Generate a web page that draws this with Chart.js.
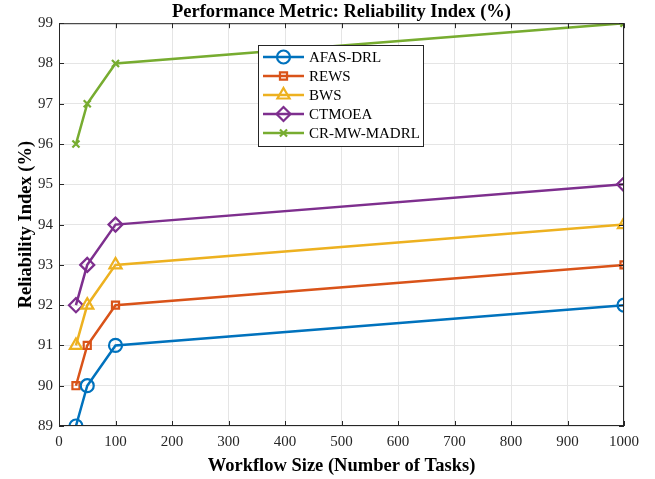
<!DOCTYPE html>
<html>
<head>
<meta charset="utf-8">
<script src="https://cdn.jsdelivr.net/npm/chart.js@4"></script>
<style>
  html, body { margin: 0; padding: 0; background: #fff; }
  #wrap { width: 655px; height: 479px; }
</style>
</head>
<body>
<div id="wrap"><canvas id="relChart" width="655" height="479"></canvas></div>
<script>
    'use strict';

    // workflow sizes (x) and reliability values per method
    const taskCounts = [30, 50, 100, 1000];
    const afasDrl = [89, 90, 91, 92];
    const rews = [90, 91, 92, 93];
    const bws = [91, 92, 93, 94];
    const ctmoea = [92, 93, 94, 95];
    const crMwMadrl = [96, 97, 98, 99];

    const seriesNames = ['AFAS-DRL', 'REWS', 'BWS', 'CTMOEA', 'CR-MW-MADRL'];
    const seriesColors = ['#0072BD', '#D95319', '#EDB120', '#7E2F8E', '#77AC30'];
    const seriesMarkers = ['circle', 'rect', 'triangle', 'rectRot', 'crossRot'];
    const markerSizes = [6.5, 5, 7, 7, 5];
    const seriesValues = [afasDrl, rews, bws, ctmoea, crMwMadrl];

    const xTicks = [0, 100, 200, 300, 400, 500, 600, 700, 800, 900, 1000];
    const yTicks = [89, 90, 91, 92, 93, 94, 95, 96, 97, 98, 99];

    const axisColor = '#262626';
    const serif = '"Liberation Serif", "Times New Roman", serif';

    const datasets = seriesValues.map((vals, i) => ({
        label: seriesNames[i],
        data: vals.map((v, j) => ({ x: taskCounts[j], y: v })),
        borderColor: seriesColors[i],
        backgroundColor: 'rgba(0,0,0,0)',
        borderWidth: 2.5,
        pointStyle: seriesMarkers[i],
        pointRadius: markerSizes[i],
        pointBorderWidth: 2.2,
        pointBorderColor: seriesColors[i],
        pointBackgroundColor: 'rgba(0,0,0,0)',
        tension: 0
    }));

    // box, inward ticks and the in-plot legend, drawn like MATLAB
    const matlabFrame = {
        id: 'matlabFrame',
        afterDraw(chart) {
            const ctx = chart.ctx;
            const a = chart.chartArea;
            const xs = chart.scales.x;
            const ys = chart.scales.y;
            ctx.save();
            ctx.strokeStyle = axisColor;
            ctx.lineWidth = 1;
            ctx.strokeRect(a.left + 0.5, a.top + 0.5, a.right - a.left - 1, a.bottom - a.top - 1);
            ctx.beginPath();
            xTicks.forEach((t) => {
                const px = Math.round(xs.getPixelForValue(t)) + 0.5;
                ctx.moveTo(px, a.bottom); ctx.lineTo(px, a.bottom - 5);
                ctx.moveTo(px, a.top); ctx.lineTo(px, a.top + 5);
            });
            yTicks.forEach((t) => {
                const py = Math.round(ys.getPixelForValue(t)) + 0.5;
                ctx.moveTo(a.left, py); ctx.lineTo(a.left + 5, py);
                ctx.moveTo(a.right, py); ctx.lineTo(a.right - 5, py);
            });
            ctx.stroke();

            // legend
            const lx = 258, ly = 45, lw = 165, lh = 101, row = 19;
            ctx.fillStyle = '#fff';
            ctx.fillRect(lx, ly, lw, lh);
            ctx.strokeStyle = axisColor;
            ctx.lineWidth = 1;
            ctx.strokeRect(lx + 0.5, ly + 0.5, lw, lh);
            chart.data.datasets.forEach((ds, i) => {
                const y = ly + 12 + i * row;
                ctx.strokeStyle = ds.borderColor;
                ctx.lineWidth = 2.5;
                ctx.beginPath();
                ctx.moveTo(lx + 5, y); ctx.lineTo(lx + 46, y);
                ctx.stroke();
                ctx.lineWidth = 2.2;
                ctx.fillStyle = 'rgba(0,0,0,0)';
                Chart.helpers.drawPoint(ctx, {
                    pointStyle: ds.pointStyle,
                    radius: ds.pointRadius,
                    borderWidth: 2.2,
                    rotation: 0
                }, lx + 25.5, y);
                ctx.fillStyle = '#000';
                ctx.font = `15px ${serif}`;
                ctx.textBaseline = 'middle';
                ctx.textAlign = 'left';
                ctx.fillText(ds.label, lx + 51, y + 1);
            });
            ctx.restore();
        }
    };

    new Chart(document.getElementById('relChart'), {
        type: 'line',
        plugins: [matlabFrame],
        data: { datasets: datasets },
        options: {
            responsive: false,
            animation: false,
            layout: { padding: { left: 15, right: 31, top: 0, bottom: 0 } },
            plugins: {
                legend: { display: false },
                tooltip: { enabled: false },
                title: {
                    display: true,
                    fullSize: false,
                    text: 'Performance Metric: Reliability Index (%)',
                    color: '#000',
                    font: { family: serif, size: 18.5, weight: 'bold' },
                    padding: { top: 1, bottom: 0 }
                }
            },
            scales: {
                x: {
                    type: 'linear',
                    min: 0,
                    max: 1000,
                    afterBuildTicks(scale) { scale.ticks = xTicks.map((v) => ({ value: v })); },
                    afterFit(scale) { scale.height = 53; },
                    ticks: {
                        color: axisColor,
                        font: { family: serif, size: 15 },
                        padding: 7,
                        callback: (v) => String(v)
                    },
                    grid: { color: '#e5e5e5', tickLength: 0, drawTicks: false },
                    border: { display: false },
                    title: {
                        display: true,
                        text: 'Workflow Size (Number of Tasks)',
                        color: '#000',
                        font: { family: serif, size: 18.5, weight: 'bold' },
                        padding: { top: 2, bottom: 2 }
                    }
                },
                y: {
                    type: 'linear',
                    min: 89,
                    max: 99,
                    afterBuildTicks(scale) { scale.ticks = yTicks.map((v) => ({ value: v })); },
                    afterFit(scale) { scale.width = 44; },
                    ticks: { color: axisColor, font: { family: serif, size: 15 }, padding: 6 },
                    grid: { color: '#e5e5e5', tickLength: 0, drawTicks: false },
                    border: { display: false },
                    title: {
                        display: true,
                        text: 'Reliability Index (%)',
                        color: '#000',
                        font: { family: serif, size: 18.5, weight: 'bold' },
                        padding: { top: 0, bottom: 4 }
                    }
                }
            }
        }
    });
</script>
</body>
</html>
